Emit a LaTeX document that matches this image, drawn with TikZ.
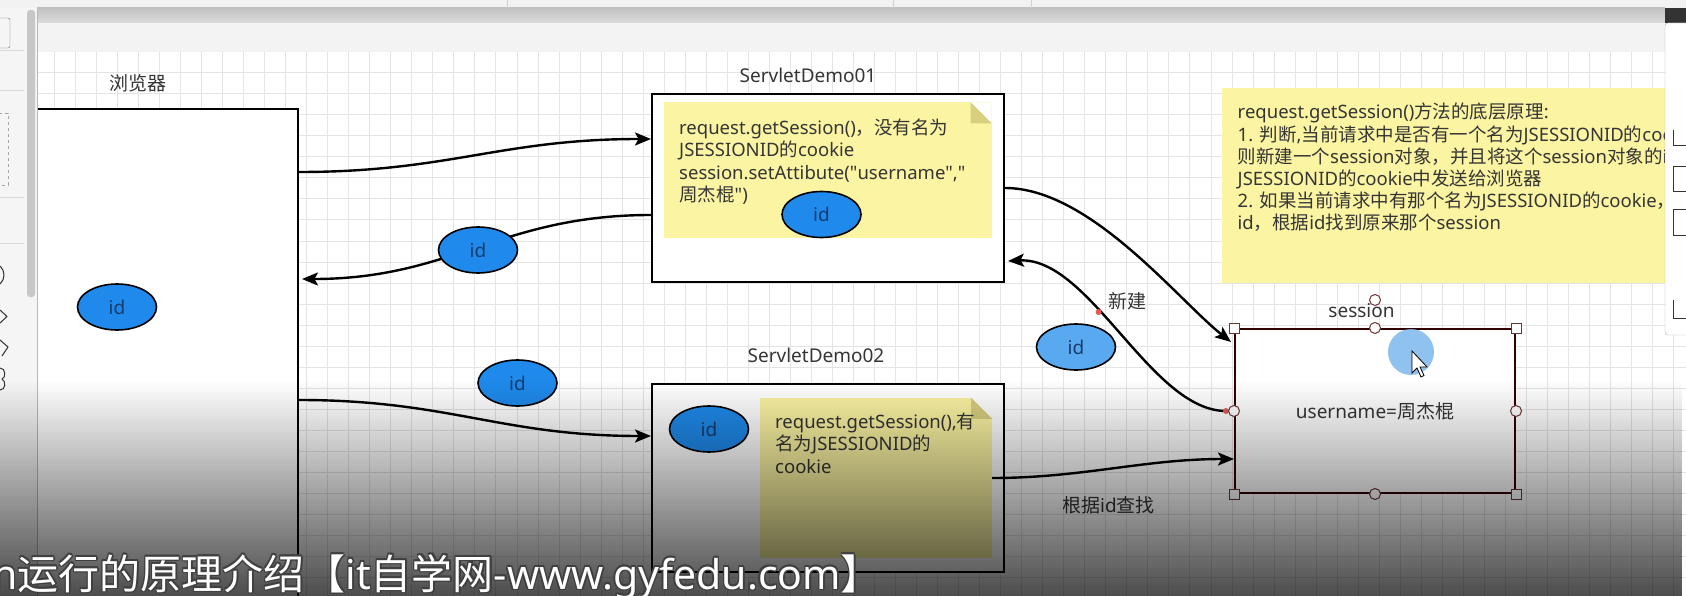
\documentclass[tikz,border=0pt]{standalone}
\usepackage{fontspec}
\setmainfont{Noto Sans}
\newfontfamily\cjk{Noto Sans CJK SC}
\newcommand{\zh}[1]{{\cjk #1}}
\newcommand{\subtitletext}{n\zh{运行的原理介绍【}it\zh{自学网}-www.gyfedu.com\zh{】}}
\usetikzlibrary{positioning,arrows.meta,calc,fadings,shapes.geometric}
\definecolor{noteyel}{HTML}{FBF4A2}
\definecolor{notefold}{HTML}{D8CF80}
\definecolor{idblue}{HTML}{1F8AEB}
\definecolor{idlight}{HTML}{59A9F0}
\definecolor{idtext}{HTML}{173C6B}
\definecolor{txtgrey}{HTML}{353535}
\definecolor{gridline}{HTML}{E4E4E4}
\definecolor{hdlred}{HTML}{6E3434}
\definecolor{dotred}{HTML}{E25C5C}
\definecolor{hiblue}{HTML}{7DB8EE}
\definecolor{chrome}{HTML}{F3F3F3}

\begin{document}
\begin{tikzpicture}[x=1pt,y=-1pt,
  box/.style={draw=black,line width=2pt,fill=white,inner sep=0pt},
  note/.style={fill=noteyel,inner sep=0pt},
  idnode/.style={ellipse,draw=black,line width=1.6pt,fill=idblue,text=idtext,
    minimum width=79pt,minimum height=46pt,inner sep=0pt,font=\fontsize{19}{22}\selectfont},
  lbl/.style={text=txtgrey,inner sep=0pt,font=\fontsize{19}{22}\selectfont},
  txt/.style={text=txtgrey,inner sep=0pt,align=left,anchor=north west,font=\fontsize{18.5}{22.2}\selectfont},
  arr/.style={-{Stealth[length=16pt,width=13pt,inset=3.5pt]},line width=2.4pt},
  hdl/.style={draw=hdlred,fill=white,line width=1pt,inner sep=0pt,minimum size=10pt},
  reddot/.style={circle,fill=dotred,inner sep=0pt,minimum size=6pt},
  sub/.style={anchor=base west,inner sep=0pt,font=\fontsize{41}{45}\selectfont}
]
\useasboundingbox (0,0) rectangle (1686,596);
\clip (0,0) rectangle (1686,596);

% canvas with grid
\fill[white] (0,0) rectangle (1686,596);
\foreach \gx in {0,...,79}
  \draw[gridline,line width=0.9pt] (54.3+21.03*\gx,52) -- (54.3+21.03*\gx,596);
\foreach \gy in {0,...,26}
  \draw[gridline,line width=0.9pt] (37,51.7+21.03*\gy) -- (1686,51.7+21.03*\gy);

% browser
\node[box,minimum width=300pt,minimum height=520pt] (browser) at (148,369) {};
\node[lbl] (lbrowser) at (137.5,83) {\zh{浏览器}};
\node[idnode] (idb) at (117,307) {id};

% ServletDemo01
\node[lbl] (ldemo1) at (808,75) {ServletDemo01};
\node[box,minimum width=352pt,minimum height=188pt] (demo1) at (828,188) {};
\node[note,minimum width=328pt,minimum height=135pt] (note1) at (827.5,170) {};
\fill[white] (note1.north east) -- ++(-21,0) -- ++(21,21) -- cycle;
\fill[notefold] ($(note1.north east)+(-21,0)$) -- ++(0,21) -- ++(21,0) -- cycle;
\node[txt] (t1) at (679,119) {request.getSession()\zh{，没有名为}\\JSESSIONID\zh{的}cookie\\session.setAttibute(\textquotedbl username\textquotedbl,\textquotedbl\\\zh{周杰棍}\textquotedbl)};
\node[idnode] (id1) at (821.5,214.5) {id};

% ServletDemo02
\node[lbl] (ldemo2) at (816,355) {ServletDemo02};
\node[box,minimum width=352pt,minimum height=188pt] (demo2) at (828,478) {};
\node[note,minimum width=232pt,minimum height=160pt] (note2) at (876,478) {};
\fill[white] (note2.north east) -- ++(-21,0) -- ++(21,21) -- cycle;
\fill[notefold] ($(note2.north east)+(-21,0)$) -- ++(0,21) -- ++(21,0) -- cycle;
\node[txt] (t2) at (775,413) {request.getSession(),\zh{有}\\\zh{名为}JSESSIONID\zh{的}\\cookie};
\node[idnode] (id2) at (709,429) {id};

% explanation note
\node[note,minimum width=480pt,minimum height=195pt] (note3) at (1462,185.5) {};
\node[txt] (t3) at (1237.5,103) {request.getSession()\zh{方法的底层原理}:\\1. \zh{判断},\zh{当前请求中是否有一个名为}JSESSIONID\zh{的}coo\\\zh{则新建一个}session\zh{对象，并且将这个}session\zh{对象的}i\\JSESSIONID\zh{的}cookie\zh{中发送给浏览器}\\2. \zh{如果当前请求中有那个名为}JSESSIONID\zh{的}cookie\zh{，}\\id\zh{，根据}id\zh{找到原来那个}session};

% session
\node[lbl] (lsession) at (1361.5,311) {session};
\node[draw=black!80!red,line width=2pt,fill=white,minimum width=280pt,minimum height=164pt,
  inner sep=0pt,text=txtgrey,font=\fontsize{19}{22}\selectfont] (session) at (1375,411) {username=\zh{周杰棍}};

% connectors
\draw[arr] ($(browser.north east)+(0,64)$) .. controls +(150,0) and +(-150,0) .. ($(demo1.north west)+(0,46)$);
\draw[arr] ($(demo1.north west)+(0,122)$) .. controls +(-150,0) and +(150,0) .. ($(browser.north east)+(3,171)$);
\draw[arr] ($(browser.north east)+(0,292)$) .. controls +(150,0) and +(-150,0) .. ($(demo2.north west)+(0,53)$);
\draw[arr] ($(demo1.north east)+(0,95)$) .. controls +(85,0) and +(-53,-42) .. ($(session.north west)+(-3,14)$);
\draw[arr] ([xshift=-8pt]session.west) .. controls +(-75,0) and +(82,-4) .. ($(demo1.south east)+(3,-22)$)
  node[reddot,pos=0] (dot0) {} node[reddot,pos=0.6] (dot1) {};
\draw[arr] (note2.east) .. controls +(90,0) and +(-90,0) .. ($(session.south west)+(0,-35)$);

\node[lbl] (lnew) at (1127,301) {\zh{新建}};
\node[lbl] (lfind) at (1108.5,505) {\zh{根据}id\zh{查找}};
\node[idnode] (idr) at (478,250) {id};
\node[idnode] (ids) at (517.5,383) {id};
\node[idnode,fill=idlight] (idn) at (1076,347) {id};

% selection handles
\foreach \a [count=\i] in {north west,north east,south west,south east}
  \node[hdl] (sq\i) at (session.\a) {};
\foreach \a [count=\i] in {north,south,east,west}
  \node[hdl,circle,minimum size=11pt] (rd\i) at (session.\a) {};
\node[hdl,circle,minimum size=11pt] (rot) at ($(session.north)+(0,-28)$) {};

% pointer
\fill[hiblue,opacity=0.85] (1411,352) circle[radius=23pt];
\draw[black,fill=white,line width=0.8pt] (1412,351) -- ++(0,22) -- ++(5,-5) -- ++(4,9) -- ++(3,-1.5) -- ++(-4,-8.5) -- ++(7,0) -- cycle;

% editor chrome
\fill[chrome] (0,0) rectangle (1686,52);
\fill[black!5] (0,0) rectangle (1686,8);
\shade[top color=black!24,bottom color=black!14] (37,8) rectangle (1665,23);
\foreach \sx in {507,893,1031} \draw[black!18] (\sx,0) -- (\sx,8);
\draw[black!25] (0,8) -- (1686,8);
\fill[black!4] (0,8) rectangle (37,596);
\draw[black!28] (37,8) -- (37,596);
\fill[black!22,rounded corners=3pt] (27,10) rectangle (35,297);
\foreach \sy in {50,90,197,243} \draw[black!15] (0,\sy) -- (24,\sy);
\draw[black!55,rounded corners=2pt] (-4,18) rectangle (10,48);
\draw[black!35,dashed] (-4,113) rectangle (8,185);
\draw[black!80,line width=1pt] (-8,275) circle[radius=12pt];
\draw[black!80,line width=1pt] (0,310) -- (7,316.5) -- (0,323);
\draw[black!80,line width=1pt] (0,340) -- (8,347) -- (2,356);
\draw[black!80,line width=1pt] (0,368) .. controls (6,368) and (6,378) .. (2,379) .. controls (6,381) and (6,390) .. (0,390);
\fill[black!80] (1665,8) rectangle (1686,23);
\filldraw[fill=white,draw=black!30,rounded corners=3pt] (1690,23) -- (1665,23) -- (1665,335) -- (1690,335);
\draw[black!80,line width=1pt] (1673,167) rectangle (1690,192);
\draw[black!80,line width=1pt] (1673,210) rectangle (1690,235);
\draw[black!80,line width=1pt] (1673,130) -- (1673,146) -- (1690,146);
\draw[black!80,line width=1pt] (1673,300) -- (1673,318) -- (1690,318);

% video overlay
\fill[black,fill opacity=0.7,path fading=north] (0,380) rectangle (1686,596);
\foreach \dx/\dy [count=\i] in {-1.5/0,1.5/0,0/-1.5,0/1.5,1.1/1.1,-1.1/1.1,1.1/-1.1,-1.1/-1.1}
  \node[sub,text=black!75] (sh\i) at (-8+\dx,589+\dy) {\subtitletext};
\node[sub,text=white] (subtitle) at (-8,589) {\subtitletext};
\end{tikzpicture}
\end{document}
